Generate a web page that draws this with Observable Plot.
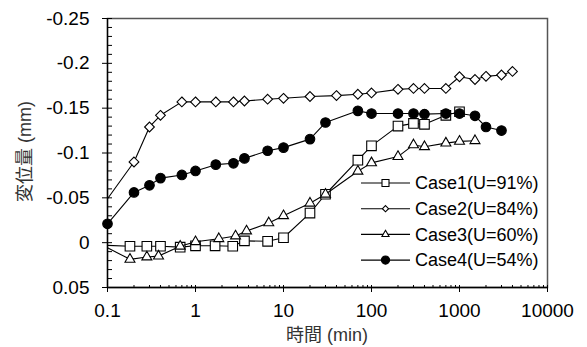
<!DOCTYPE html>
<html>
<head>
<meta charset="utf-8">
<script src="https://cdn.jsdelivr.net/npm/d3@7"></script>
<script src="https://cdn.jsdelivr.net/npm/@observablehq/plot@0.6"></script>
<style>
  html, body { margin: 0; padding: 0; background: white; }
</style>
</head>
<body>
<div id="chart"></div>
<script>
// ---- data ----
const xTicks = [0.1, 1, 10, 100, 1000, 10000];
const xTickLabels = ["0.1", "1", "10", "100", "1000", "10000"];
const yTicks = [-0.25, -0.2, -0.15, -0.1, -0.05, 0, 0.05];
const yTickLabels = ["-0.25", "-0.2", "-0.15", "-0.1", "-0.05", "0", "0.05"];
const xTitle = "時間 (min)";
const yTitle = "変位量 (mm)";

const seriesNames = ["Case1(U=91%)", "Case2(U=84%)", "Case3(U=60%)", "Case4(U=54%)"];

const case1Time = [0.1, 0.18, 0.28, 0.4, 0.67, 1, 1.67, 2.65, 3.6, 6.6, 10, 20, 30, 70, 100, 200, 300, 400, 700, 1000];
const case1Disp = [0.003, 0.004, 0.004, 0.004, 0.005, 0.0035, 0.0035, 0.004, -0.002, -0.0015, -0.0055, -0.033, -0.054, -0.092, -0.108, -0.130, -0.133, -0.132, -0.142, -0.146];

const case2Time = [0.1, 0.2, 0.3, 0.4, 0.7, 1, 1.7, 2.7, 3.6, 6.6, 10, 20, 40, 70, 100, 200, 300, 400, 700, 1000, 1500, 2000, 3000, 4000];
const case2Disp = [-0.049, -0.090, -0.129, -0.142, -0.157, -0.157, -0.157, -0.157, -0.158, -0.160, -0.161, -0.163, -0.164, -0.1655, -0.167, -0.171, -0.172, -0.172, -0.172, -0.185, -0.182, -0.1855, -0.187, -0.191];

const case3Time = [0.1, 0.18, 0.28, 0.38, 0.67, 1, 1.84, 2.85, 3.8, 6.8, 10, 20, 30, 70, 100, 200, 300, 400, 700, 1000, 1500];
const case3Disp = [0.0056, 0.0186, 0.016, 0.015, 0.004, -0.001, -0.0044, -0.0074, -0.013, -0.022, -0.030, -0.044, -0.054, -0.0796, -0.089, -0.096, -0.109, -0.107, -0.111, -0.113, -0.1137];

const case4Time = [0.1, 0.2, 0.3, 0.4, 0.7, 1, 1.7, 2.7, 3.6, 6.6, 10, 20, 30, 70, 100, 200, 300, 400, 700, 1000, 1500, 2000, 3000];
const case4Disp = [-0.021, -0.056, -0.064, -0.072, -0.0755, -0.080, -0.087, -0.0885, -0.094, -0.1025, -0.106, -0.1155, -0.134, -0.147, -0.144, -0.144, -0.144, -0.1433, -0.144, -0.144, -0.1415, -0.129, -0.125];

// first point of cases 1-3 is only a line start (no visible marker)
const firstMarkerShown = [false, false, false, true];

// ---- build ----
const times = [case1Time, case2Time, case3Time, case4Time];
const disps = [case1Disp, case2Disp, case3Disp, case4Disp];
const series = seriesNames.map((name, k) =>
  times[k].map((t, i) => ({name, t, v: disps[k][i], marker: i > 0 || firstMarkerShown[k]}))
);

const symbolStyles = [
  {symbol: "square", r: 5.4},
  {symbol: "diamond2", r: 4.4},
  {symbol: "triangle", r: 3.7},
  {symbol: "circle", r: 4.8}
];
const fills = ["white", "white", "white", "black"];

const xMinor = [];
for (let e = -1; e < 4; e++) for (let m = 1; m <= 9; m++) xMinor.push(m * Math.pow(10, e));
xMinor.push(10000);
const yMinor = d3.range(-25, 6).map(i => i / 100);

const font = "'Liberation Sans', Arial, 'Noto Sans CJK JP', sans-serif";

const marks = [
  Plot.frame({stroke: "#555", strokeWidth: 1.5}),
  Plot.axisY(yTicks, {tickSize: 5, tickPadding: 13, fontSize: 19, label: null,
    tickFormat: d => yTickLabels[yTicks.indexOf(d)]}),
  Plot.axisY(yMinor, {anchor: "right", frameAnchor: "left", tickSize: 4, label: null, tickFormat: () => ""}),
  Plot.axisX(xTicks, {tickSize: 5, tickPadding: 11, fontSize: 19, label: null,
    tickFormat: d => xTickLabels[xTicks.indexOf(d)]}),
  Plot.axisX(xMinor, {anchor: "top", frameAnchor: "bottom", tickSize: 3, label: null, tickFormat: () => ""}),
  Plot.ruleX([xTicks[0]], {stroke: "black", strokeWidth: 1.3}),
  Plot.ruleY([yTicks[yTicks.length - 1]], {stroke: "black", strokeWidth: 1.3})
];

series.forEach((data, k) => {
  marks.push(Plot.line(data, {x: "t", y: "v", stroke: "black", strokeWidth: 1.1}));
  marks.push(Plot.dot(data.filter(d => d.marker), {
    x: "t", y: "v", symbol: symbolStyles[k].symbol, r: symbolStyles[k].r,
    fill: fills[k], stroke: "black", strokeWidth: 1.1
  }));
});

const W = 587, H = 347, ML = 107, MR = 40, MT = 18, MB = 60;
const chart = Plot.plot({
  width: W,
  height: H,
  marginLeft: ML,
  marginRight: MR,
  marginTop: MT,
  marginBottom: MB,
  x: {type: "log", domain: [0.1, 10000]},
  y: {domain: [0.05, -0.25]},
  style: {fontFamily: font, fontSize: "19px", color: "black", background: "white", overflow: "visible"},
  marks
});

const svg = d3.select(chart);

// ---- axis titles ----
const tg = svg.append("g").attr("font-family", font).attr("font-size", 18)
  .attr("text-anchor", "middle").attr("fill", "#333");
tg.append("text").attr("x", (ML + W - MR) / 2).attr("y", H - MB + 48).attr("dy", "0.35em").text(xTitle);
tg.append("text").attr("transform", `translate(25,${(MT + H - MB) / 2 - 1}) rotate(-90)`)
  .attr("dy", "0.35em").text(yTitle);

// ---- legend (inside plot area) ----
const lg = svg.append("g").attr("font-family", font).attr("font-size", 18).attr("text-anchor", "start");
const legendSymbols = [
  {type: d3.symbolSquare, size: 49},
  {type: d3.symbolDiamond2, size: 24},
  {type: d3.symbolTriangle, size: 22},
  {type: d3.symbolCircle, size: 52}
];
seriesNames.forEach((name, i) => {
  const y = 183 + i * 25.7;
  lg.append("line").attr("x1", 361).attr("x2", 410).attr("y1", y).attr("y2", y)
    .attr("stroke", "black").attr("stroke-width", 1.1);
  lg.append("path").attr("d", d3.symbol(legendSymbols[i].type, legendSymbols[i].size)())
    .attr("transform", `translate(385.5,${y})`)
    .attr("fill", fills[i]).attr("stroke", "black").attr("stroke-width", 1.1);
  lg.append("text").attr("x", 415).attr("y", y).attr("dy", "0.35em").attr("fill", "black").text(name);
});

document.getElementById("chart").appendChild(chart);
</script>
</body>
</html>
